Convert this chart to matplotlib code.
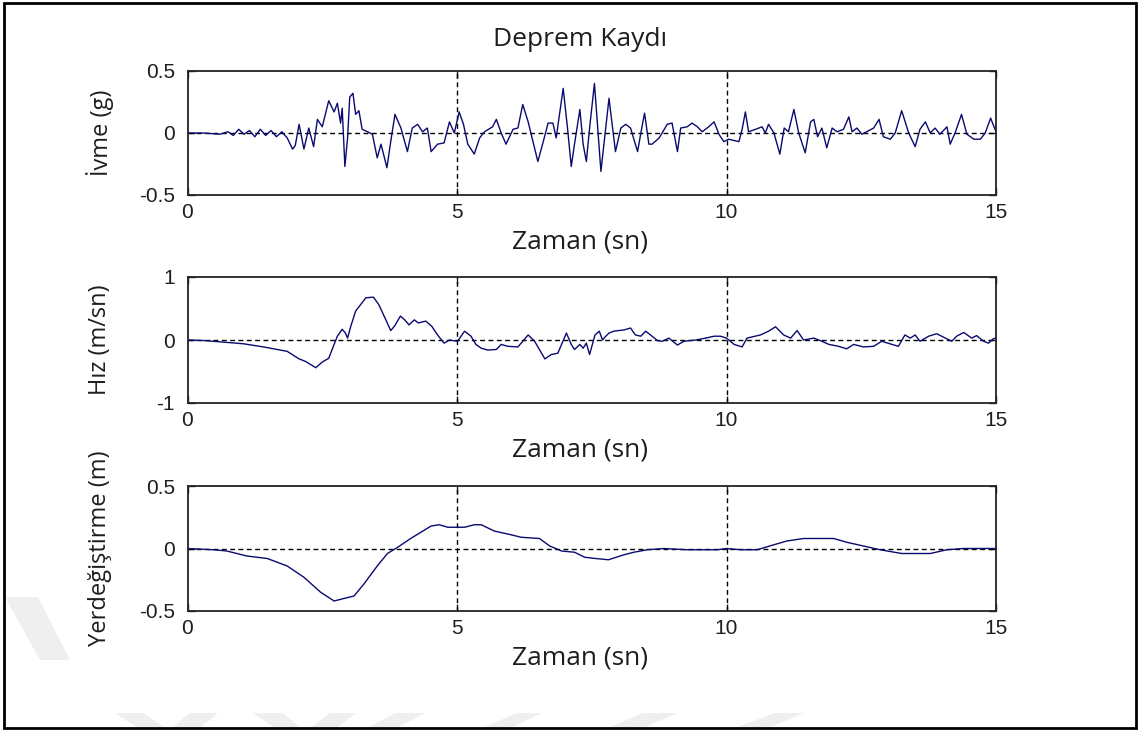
import matplotlib.pyplot as plt
from matplotlib.patches import Rectangle, Polygon

# ivme kaydi (g) - zaman (sn)
t_ivme = [0.0, 0.3, 0.6, 0.75, 0.85, 0.95, 1.05, 1.15, 1.25, 1.35, 1.45, 1.55, 1.65, 1.75,
          1.85, 1.95, 2.0, 2.07, 2.16, 2.25, 2.34, 2.41, 2.5, 2.62, 2.72, 2.78, 2.84, 2.87,
          2.92, 2.97, 3.01, 3.07, 3.12, 3.18, 3.24, 3.34, 3.43, 3.52, 3.59, 3.70, 3.77, 3.85,
          3.96, 4.08, 4.17, 4.27, 4.36, 4.45, 4.52, 4.64, 4.76, 4.86, 4.95, 5.04, 5.12, 5.2,
          5.32, 5.42, 5.51, 5.66, 5.73, 5.82, 5.91, 6.04, 6.13, 6.22, 6.32, 6.5, 6.6, 6.69,
          6.78, 6.84, 6.97, 7.05, 7.12, 7.18, 7.28, 7.34, 7.4, 7.46, 7.55, 7.67, 7.82, 7.94,
          8.04, 8.13, 8.22, 8.35, 8.44, 8.48, 8.56, 8.62, 8.75, 8.9, 8.99, 9.09, 9.15, 9.27,
          9.36, 9.46, 9.55, 9.67, 9.77, 9.86, 9.95, 10.04, 10.23, 10.29, 10.35, 10.41, 10.54,
          10.66, 10.72, 10.78, 10.88, 10.99, 11.07, 11.15, 11.25, 11.34, 11.46, 11.56, 11.62,
          11.69, 11.77, 11.86, 11.96, 12.05, 12.17, 12.27, 12.33, 12.42, 12.51, 12.6, 12.73,
          12.83, 12.91, 13.04, 13.13, 13.25, 13.38, 13.5, 13.59, 13.69, 13.78, 13.87, 13.96,
          14.09, 14.15, 14.24, 14.36, 14.46, 14.59, 14.71, 14.8, 14.9, 15.0]
a_ivme = [0.0, 0.0, -0.01, 0.01, -0.02, 0.03, -0.01, 0.02, -0.03, 0.03, -0.02, 0.02, -0.03, 0.01,
          -0.04, -0.13, -0.1, 0.07, -0.13, 0.04, -0.11, 0.11, 0.05, 0.26, 0.17, 0.24, 0.08, 0.20,
          -0.27, -0.04, 0.29, 0.32, 0.15, 0.18, 0.03, 0.01, -0.01, -0.20, -0.09, -0.28, -0.07, 0.15,
          0.04, -0.15, 0.04, 0.07, 0.01, 0.04, -0.15, -0.09, -0.08, 0.09, 0.0, 0.17, 0.07, -0.09,
          -0.17, -0.04, 0.01, 0.05, 0.11, 0.0, -0.09, 0.03, 0.04, 0.23, 0.09, -0.23, -0.07, 0.08,
          0.08, -0.04, 0.36, 0.04, -0.27, -0.09, 0.19, -0.09, -0.23, 0.04, 0.40, -0.31, 0.28, -0.15,
          0.04, 0.07, 0.04, -0.15, 0.07, 0.16, -0.09, -0.09, -0.04, 0.07, 0.08, -0.15, 0.04, 0.05,
          0.08, 0.05, 0.01, 0.05, 0.09, -0.01, -0.07, -0.05, -0.07, 0.03, 0.17, 0.01, 0.03,
          0.05, 0.0, 0.07, 0.0, -0.17, 0.04, 0.01, 0.19, 0.0, -0.16, 0.09, 0.11,
          -0.03, 0.04, -0.12, 0.04, 0.01, 0.03, 0.13, 0.01, 0.04, -0.01, 0.01, 0.04,
          0.11, -0.03, -0.05, 0.0, 0.18, 0.0, -0.11, 0.03, 0.09, 0.0, 0.04, -0.01,
          0.05, -0.09, 0.0, 0.15, -0.01, -0.05, -0.05, 0.0, 0.12, 0.01]

# hiz (m/sn)
t_hiz = [0.0, 0.33, 1.04, 1.41, 1.85, 2.07, 2.19, 2.38, 2.5, 2.62, 2.72, 2.78, 2.87, 2.93, 2.97,
         3.03, 3.12, 3.21, 3.31, 3.45, 3.55, 3.68, 3.77, 3.84, 3.95, 4.03, 4.11, 4.21, 4.28, 4.42,
         4.53, 4.64, 4.76, 4.86, 5.01, 5.14, 5.26, 5.35, 5.45, 5.57, 5.73, 5.82, 5.94, 6.13, 6.32,
         6.44, 6.63, 6.75, 6.87, 6.94, 7.03, 7.12, 7.18, 7.28, 7.34, 7.40, 7.46, 7.56, 7.64,
         7.70, 7.76, 7.82, 7.91, 8.0, 8.1, 8.22, 8.31, 8.41, 8.5, 8.59, 8.72, 8.81, 8.93, 9.09,
         9.21, 9.43, 9.61, 9.77, 9.89, 10.0, 10.14, 10.29, 10.38, 10.63, 10.78, 10.91, 11.06,
         11.19, 11.31, 11.43, 11.62, 11.74, 11.9, 12.08, 12.23, 12.36, 12.54, 12.73, 12.88,
         13.07, 13.19, 13.31, 13.41, 13.5, 13.59, 13.75, 13.9, 14.06, 14.18, 14.27, 14.4, 14.55,
         14.64, 14.77, 14.86, 14.95, 15.0]
v_hiz = [0.0, -0.01, -0.06, -0.11, -0.18, -0.30, -0.34, -0.44, -0.35, -0.29, -0.07, 0.06, 0.17, 0.11, 0.03,
         0.22, 0.46, 0.56, 0.67, 0.68, 0.56, 0.32, 0.15, 0.22, 0.38, 0.32, 0.24, 0.32, 0.27, 0.30,
         0.22, 0.08, -0.05, 0.0, -0.02, 0.14, 0.06, -0.07, -0.13, -0.16, -0.15, -0.07, -0.10, -0.11, 0.08,
         -0.02, -0.30, -0.23, -0.21, -0.07, 0.11, -0.07, -0.15, -0.07, -0.13, -0.05, -0.23, 0.08, 0.14,
         0.0, 0.06, 0.11, 0.14, 0.15, 0.16, 0.19, 0.08, 0.06, 0.14, 0.08, -0.01, -0.02, 0.03, -0.08,
         -0.02, 0.0, 0.03, 0.06, 0.06, 0.03, -0.07, -0.11, 0.03, 0.08, 0.14, 0.21, 0.08,
         0.03, 0.15, 0.0, 0.03, -0.01, -0.07, -0.10, -0.14, -0.07, -0.11, -0.10, -0.02,
         -0.07, -0.10, 0.08, 0.03, 0.08, -0.02, 0.06, 0.10, 0.03, -0.02, 0.06, 0.12, 0.03,
         0.07, -0.02, -0.05, 0.02, 0.03]

# yerdegistirme (m)
t_yer = [0.0, 0.48, 0.73, 1.1, 1.48, 1.85, 2.16, 2.47, 2.72, 2.9, 3.09, 3.28, 3.52, 3.71, 3.9,
         4.14, 4.33, 4.52, 4.67, 4.83, 5.14, 5.32, 5.45, 5.69, 6.0, 6.19, 6.53, 6.72, 6.94, 7.18,
         7.37, 7.57, 7.81, 8.1, 8.28, 8.53, 8.84, 9.27, 9.52, 9.83, 10.0, 10.26, 10.57, 10.88,
         11.12, 11.43, 11.99, 12.23, 12.54, 12.85, 13.25, 13.78, 14.09, 14.4, 15.0]
d_yer = [0.0, -0.01, -0.02, -0.06, -0.08, -0.14, -0.23, -0.35, -0.42, -0.40, -0.38, -0.28, -0.14, -0.04, 0.01,
         0.08, 0.13, 0.18, 0.19, 0.17, 0.17, 0.19, 0.19, 0.14, 0.11, 0.09, 0.08, 0.02, -0.02, -0.03,
         -0.07, -0.08, -0.09, -0.05, -0.03, -0.01, 0.0, -0.01, -0.01, -0.01, 0.0, -0.01, -0.01, 0.03,
         0.06, 0.08, 0.08, 0.05, 0.02, -0.01, -0.04, -0.04, -0.01, 0.0, 0.0]

xticks = [0, 5, 10, 15]
panels = [
    (t_ivme, a_ivme, 'İvme (g)', (-0.5, 0.5), [-0.5, 0, 0.5], ['-0.5', '0', '0.5']),
    (t_hiz, v_hiz, 'Hız (m/sn)', (-1, 1), [-1, 0, 1], ['-1', '0', '1']),
    (t_yer, d_yer, 'Yerdeğiştirme (m)', (-0.5, 0.5), [-0.5, 0, 0.5], ['-0.5', '0', '0.5']),
]

W, H = 1140, 731
fig = plt.figure(figsize=(W / 100, H / 100), dpi=100)
fig.patch.set_facecolor('white')

# soluk filigran (piksel koordinatlari)
wm = '#efefef'
for pts in [
    [(5, 597), (38, 597), (70, 660), (40, 660)],
    [(115, 713), (143, 713), (166, 728), (138, 728)],
    [(190, 713), (218, 713), (200, 728), (172, 728)],
    [(253, 713), (283, 713), (301, 728), (275, 728)],
    [(330, 713), (356, 713), (336, 728), (310, 728)],
    [(395, 713), (425, 713), (397, 728), (367, 728)],
    [(517, 713), (542, 713), (511, 728), (482, 728)],
    [(643, 713), (677, 713), (643, 728), (608, 728)],
    [(775, 713), (804, 713), (769, 728), (735, 728)],
]:
    fig.patches.append(Polygon([(x / W, 1 - y / H) for x, y in pts], closed=True,
                               transform=fig.transFigure, facecolor=wm, edgecolor='none',
                               zorder=0))

ax_rects = [(71, 195), (277, 403), (486, 611)]
left, right = 187.5, 996
line_col = '#0a0a70'
txt_col = '#1e1e1e'

for (t, y, ylab, ylim, yt, ytl), (top, bot) in zip(panels, ax_rects):
    ax = fig.add_axes([left / W, 1 - bot / H, (right - left) / W, (bot - top) / H])
    ax.set_facecolor('none')
    # ic izgara: sadece 5, 10 ve sifir cizgisi
    for xv in xticks[1:-1]:
        ax.axvline(xv, color='black', linestyle=(0, (3.5, 2.5)), linewidth=1.0)
    ax.axhline(0, color='black', linestyle=(0, (3.5, 2.5)), linewidth=1.0)
    ax.plot(t, y, color=line_col, linewidth=1.0)
    ax.set_xlim(0, 15)
    ax.set_ylim(*ylim)
    ax.set_xticks(xticks)
    ax.set_yticks(yt)
    ax.set_yticklabels(ytl)
    ax.tick_params(direction='in', top=True, right=True, length=5, width=1,
                   labelsize=15, colors=txt_col)
    ax.tick_params(axis='x', pad=6)
    ax.tick_params(axis='y', pad=9)
    for lab in ax.get_xticklabels() + ax.get_yticklabels():
        lab.set_family('Liberation Sans')
    for s in ax.spines.values():
        s.set_linewidth(1.3)
        s.set_color('#222222')
    mid = (top + bot) / 2
    fig.text(100 / W, 1 - mid / H, ylab, rotation=90, ha='center', va='center',
             fontsize=17, family='Open Sans', color=txt_col)
    fig.text(580 / W, 1 - (bot + 47) / H, 'Zaman (sn)', ha='center', va='center',
             fontsize=19, family='Open Sans', color=txt_col)

fig.text(580 / W, 1 - 40 / H, 'Deprem Kaydı', ha='center', va='center',
         fontsize=19, family='Open Sans', color=txt_col)

# dis cerceve
fig.patches.append(Rectangle((4 / W, 3 / H), 1 - 8 / W, 1 - 6 / H, transform=fig.transFigure,
                             fill=False, edgecolor='black', linewidth=2, zorder=5))

fig.savefig('out.png', dpi=100)
